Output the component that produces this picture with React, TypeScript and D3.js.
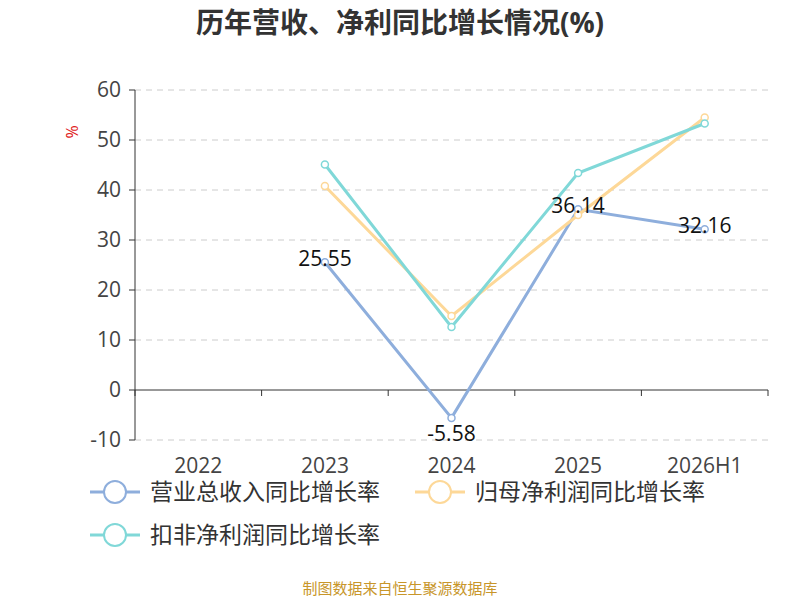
import * as d3 from "d3";

const categories = ["2022", "2023", "2024", "2025", "2026H1"];
const revenue: (number | null)[] = [null, 25.55, -5.58, 36.14, 32.16];
const netProfit: (number | null)[] = [null, 40.8, 14.8, 35.0, 54.5];
const deductedProfit: (number | null)[] = [null, 45.1, 12.6, 43.4, 53.3];
const yTicks = [-10, 0, 10, 20, 30, 40, 50, 60];

const SERIES = [
  { name: "营业总收入同比增长率", values: revenue, color: "#8eaedc", labels: true },
  { name: "归母净利润同比增长率", values: netProfit, color: "#fdd898", labels: false },
  { name: "扣非净利润同比增长率", values: deductedProfit, color: "#80d8d8", labels: false },
];

const FONT = "'Open Sans', 'Noto Sans CJK SC', sans-serif";

export default function App() {
  const left = 135, right = 768, top = 90, bottom = 440;
  const x = d3.scaleBand<string>().domain(categories).range([left, right]);
  const y = d3.scaleLinear().domain([-10, 60]).range([bottom, top]);
  const cx = (c: string) => (x(c) ?? 0) + x.bandwidth() / 2;

  const mkLine = d3
    .line<number | null>()
    .defined(d => d !== null)
    .x((_, i) => cx(categories[i]))
    .y(d => y(d as number));

  const legend = [
    { x: 95, y: 492 },
    { x: 420, y: 492 },
    { x: 95, y: 535 },
  ];

  return (
    <svg width={800} height={600} style={{ position: "absolute", left: 0, top: 0, fontFamily: FONT }}>
      <rect width={800} height={600} fill="white" />
      <text x={400} y={33} textAnchor="middle" fontSize={28} fontWeight="bold" fill="#333">
        历年营收、净利同比增长情况(%)
      </text>
      <text transform="translate(78,132) rotate(-90)" textAnchor="middle" fontSize={16} fill="#e02020">%</text>

      {yTicks.map(t => (
        <g key={t}>
          {t !== 0 && (
            <line x1={left} x2={right} y1={y(t)} y2={y(t)} stroke="#ccc" strokeDasharray="6,5" />
          )}
          <line x1={left - 6} x2={left} y1={y(t)} y2={y(t)} stroke="#333" />
          <text x={left - 14} y={y(t)} dy="0.35em" textAnchor="end" fontSize={21} fill="#444">{t}</text>
        </g>
      ))}
      <line x1={left} x2={left} y1={top} y2={bottom} stroke="#333" />
      <line x1={left} x2={right} y1={y(0)} y2={y(0)} stroke="#333" />
      {[...categories.map(c => x(c) ?? 0), right].map((p, i) => (
        <line key={i} x1={p} x2={p} y1={y(0)} y2={y(0) + 6} stroke="#333" />
      ))}
      {categories.map(c => (
        <text key={c} x={cx(c)} y={473} textAnchor="middle" fontSize={21} fill="#444">{c}</text>
      ))}

      {SERIES.map(s => (
        <g key={s.name}>
          <path d={mkLine(s.values) ?? ""} fill="none" stroke={s.color} strokeWidth={3} />
          {s.values.map((v, i) =>
            v === null ? null : (
              <circle key={i} cx={cx(categories[i])} cy={y(v)} r={3.5} fill="white" stroke={s.color} strokeWidth={1.5} />
            )
          )}
        </g>
      ))}
      {SERIES.filter(s => s.labels).map(s =>
        s.values.map((v, i) =>
          v === null ? null : (
            <text key={i} x={cx(categories[i])} y={v < 0 ? y(v) + 6 : y(v) - 4}
              dy={v < 0 ? "0.8em" : "0.35em"} textAnchor="middle" fontSize={21} fill="#111">
              {v.toFixed(2)}
            </text>
          )
        )
      )}

      {SERIES.map((s, i) => (
        <g key={s.name} transform={`translate(${legend[i].x},${legend[i].y})`}>
          <line x1={-5} x2={45} stroke={s.color} strokeWidth={3} />
          <circle cx={20} r={11} fill="white" stroke={s.color} strokeWidth={2} />
          <text x={55} dy="0.35em" fontSize={23} fill="#333">{s.name}</text>
        </g>
      ))}

      <text x={400} y={594} textAnchor="middle" fontSize={15} fill="#c8962a">制图数据来自恒生聚源数据库</text>
    </svg>
  );
}
